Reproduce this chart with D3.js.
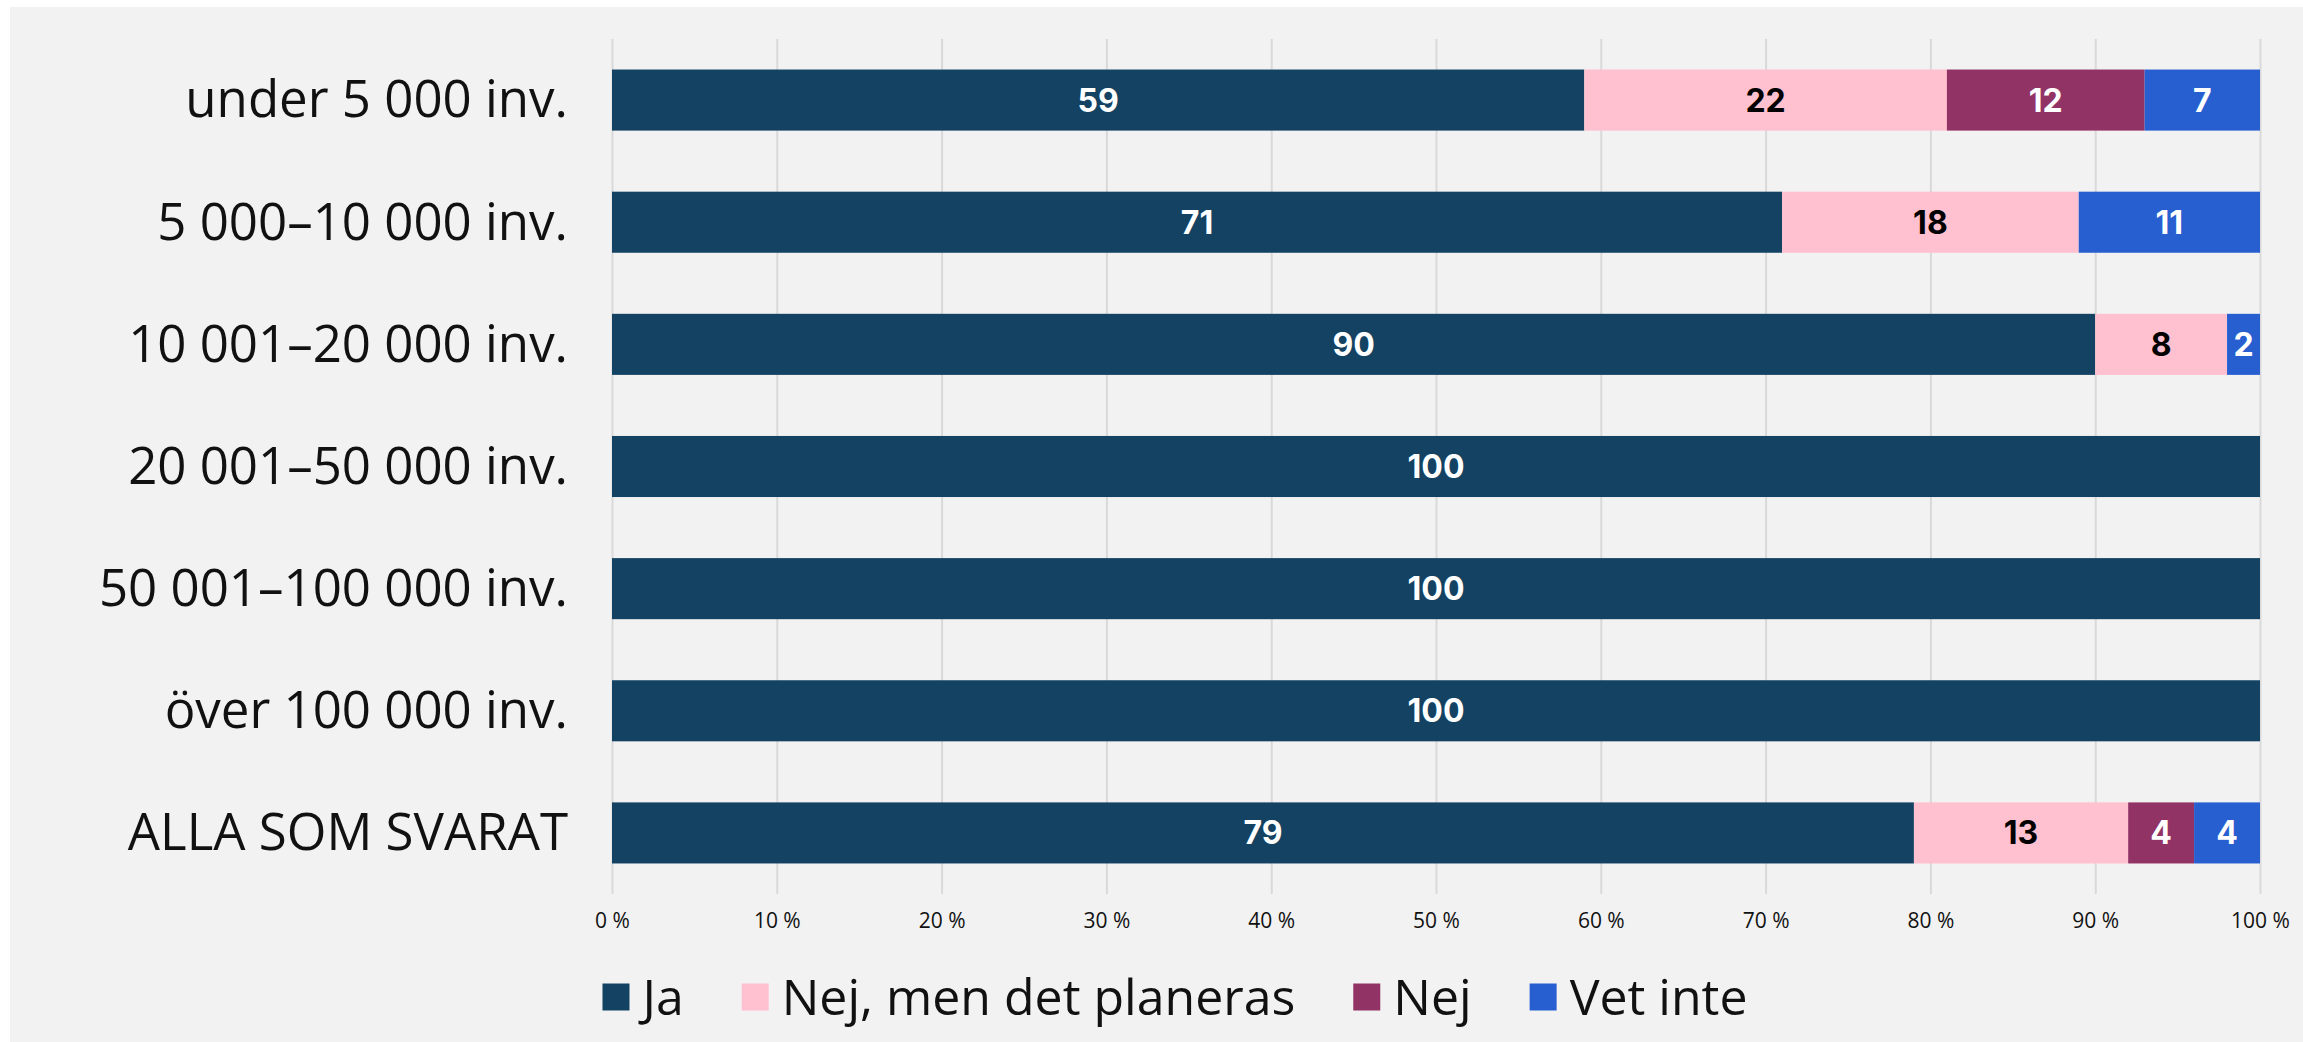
<!DOCTYPE html>
<html>
<head>
<meta charset="utf-8">
<script src="https://cdn.jsdelivr.net/npm/d3@7"></script>
<style>
  html, body { margin: 0; padding: 0; background: #ffffff; }
  #chart { width: 2303px; height: 1042px; }
</style>
</head>
<body>
<div id="chart"></div>
<script>
// categories (rows) and series values, in percent
const categories = [
  'under 5 000 inv.',
  '5 000–10 000 inv.',
  '10 001–20 000 inv.',
  '20 001–50 000 inv.',
  '50 001–100 000 inv.',
  'över 100 000 inv.',
  'ALLA SOM SVARAT'
];
const seriesNames = ['Ja', 'Nej, men det planeras', 'Nej', 'Vet inte'];
const ja = [59, 71, 90, 100, 100, 100, 79];
const nejPlaneras = [22, 18, 8, 0, 0, 0, 13];
const nej = [12, 0, 0, 0, 0, 0, 4];
const vetInte = [7, 11, 2, 0, 0, 0, 4];
const tickValues = [0, 10, 20, 30, 40, 50, 60, 70, 80, 90, 100];

const colors = ['#134263', '#ffc0cf', '#923365', '#275fd1'];
const labelColors = ['#ffffff', '#000000', '#ffffff', '#ffffff'];

const W = 2303, H = 1042;
const margin = { left: 612, right: 43, top: 39, bottom: 148 };

const svg = d3.select('#chart')
  .append('svg')
  .attr('width', W)
  .attr('height', H)
  .attr('viewBox', `0 0 ${W} ${H}`);

// panel background
svg.append('rect')
  .attr('x', 10)
  .attr('y', 7)
  .attr('width', W - 10)
  .attr('height', H - 7)
  .attr('fill', '#f2f2f2');

// build stack table
const rows = categories.map((c, i) => ({
  cat: c,
  [seriesNames[0]]: ja[i],
  [seriesNames[1]]: nejPlaneras[i],
  [seriesNames[2]]: nej[i],
  [seriesNames[3]]: vetInte[i]
}));
const stacked = d3.stack().keys(seriesNames)(rows);

const x = d3.scaleLinear()
  .domain([0, 100])
  .range([margin.left, W - margin.right]);

const y = d3.scaleBand()
  .domain(categories)
  .range([margin.top, H - margin.bottom])
  .paddingInner(0.5)
  .paddingOuter(0.25);

// gridlines + tick labels
const xAxis = d3.axisBottom(x)
  .tickValues(tickValues)
  .tickSize(-(H - margin.bottom - margin.top))
  .tickPadding(19)
  .tickFormat(d => d + ' %');

const gx = svg.append('g')
  .attr('transform', `translate(0, ${H - margin.bottom})`)
  .call(xAxis);
gx.select('.domain').remove();
gx.selectAll('line')
  .attr('stroke', '#d9d9d9')
  .attr('stroke-width', 2);
gx.selectAll('text')
  .attr('fill', '#111111')
  .attr('font-family', 'Open Sans, sans-serif')
  .attr('font-size', '21px');

// category labels
const gy = svg.append('g')
  .attr('transform', `translate(${margin.left - 44}, 0)`)
  .call(d3.axisLeft(y).tickSize(0).tickPadding(0));
gy.select('.domain').remove();
gy.selectAll('text')
  .attr('fill', '#111111')
  .attr('font-family', 'Open Sans, sans-serif')
  .attr('font-size', '51px')
  .attr('dy', '0.34em');

// bars
const layers = svg.append('g')
  .selectAll('g')
  .data(stacked)
  .join('g')
  .attr('fill', (d, i) => colors[i]);

layers.selectAll('rect')
  .data(d => d.filter(s => s[1] - s[0] > 0))
  .join('rect')
  .attr('x', d => x(d[0]))
  .attr('y', d => y(d.data.cat))
  .attr('width', d => x(d[1]) - x(d[0]))
  .attr('height', y.bandwidth());

// value labels
stacked.forEach((layer, i) => {
  svg.append('g')
    .selectAll('text')
    .data(layer.filter(s => s[1] - s[0] > 0))
    .join('text')
    .attr('x', d => x((d[0] + d[1]) / 2))
    .attr('y', d => y(d.data.cat) + y.bandwidth() / 2)
    .attr('dy', '0.36em')
    .attr('text-anchor', 'middle')
    .attr('fill', labelColors[i])
    .attr('font-family', 'Inter, sans-serif')
    .attr('font-weight', 700)
    .attr('font-size', '32px')
    .text(d => d[1] - d[0]);
});

// legend, centred in the panel
const legend = svg.append('g');
const legendY = 997;
const sq = 27;
let lx = 0;
seriesNames.forEach((name, i) => {
  const item = legend.append('g').attr('transform', `translate(${lx}, 0)`);
  item.append('rect')
    .attr('x', 0)
    .attr('y', legendY - sq / 2)
    .attr('width', sq)
    .attr('height', sq)
    .attr('fill', colors[i]);
  const t = item.append('text')
    .attr('x', sq + 13)
    .attr('y', legendY)
    .attr('dy', '0.35em')
    .attr('fill', '#111111')
    .attr('font-family', 'Open Sans, sans-serif')
    .attr('font-size', '50px')
    .text(name);
  lx += sq + 13 + t.node().getComputedTextLength() + 58;
});
const legendW = lx - 58;
legend.attr('transform', `translate(${1175 - legendW / 2}, 0)`);
</script>
</body>
</html>
